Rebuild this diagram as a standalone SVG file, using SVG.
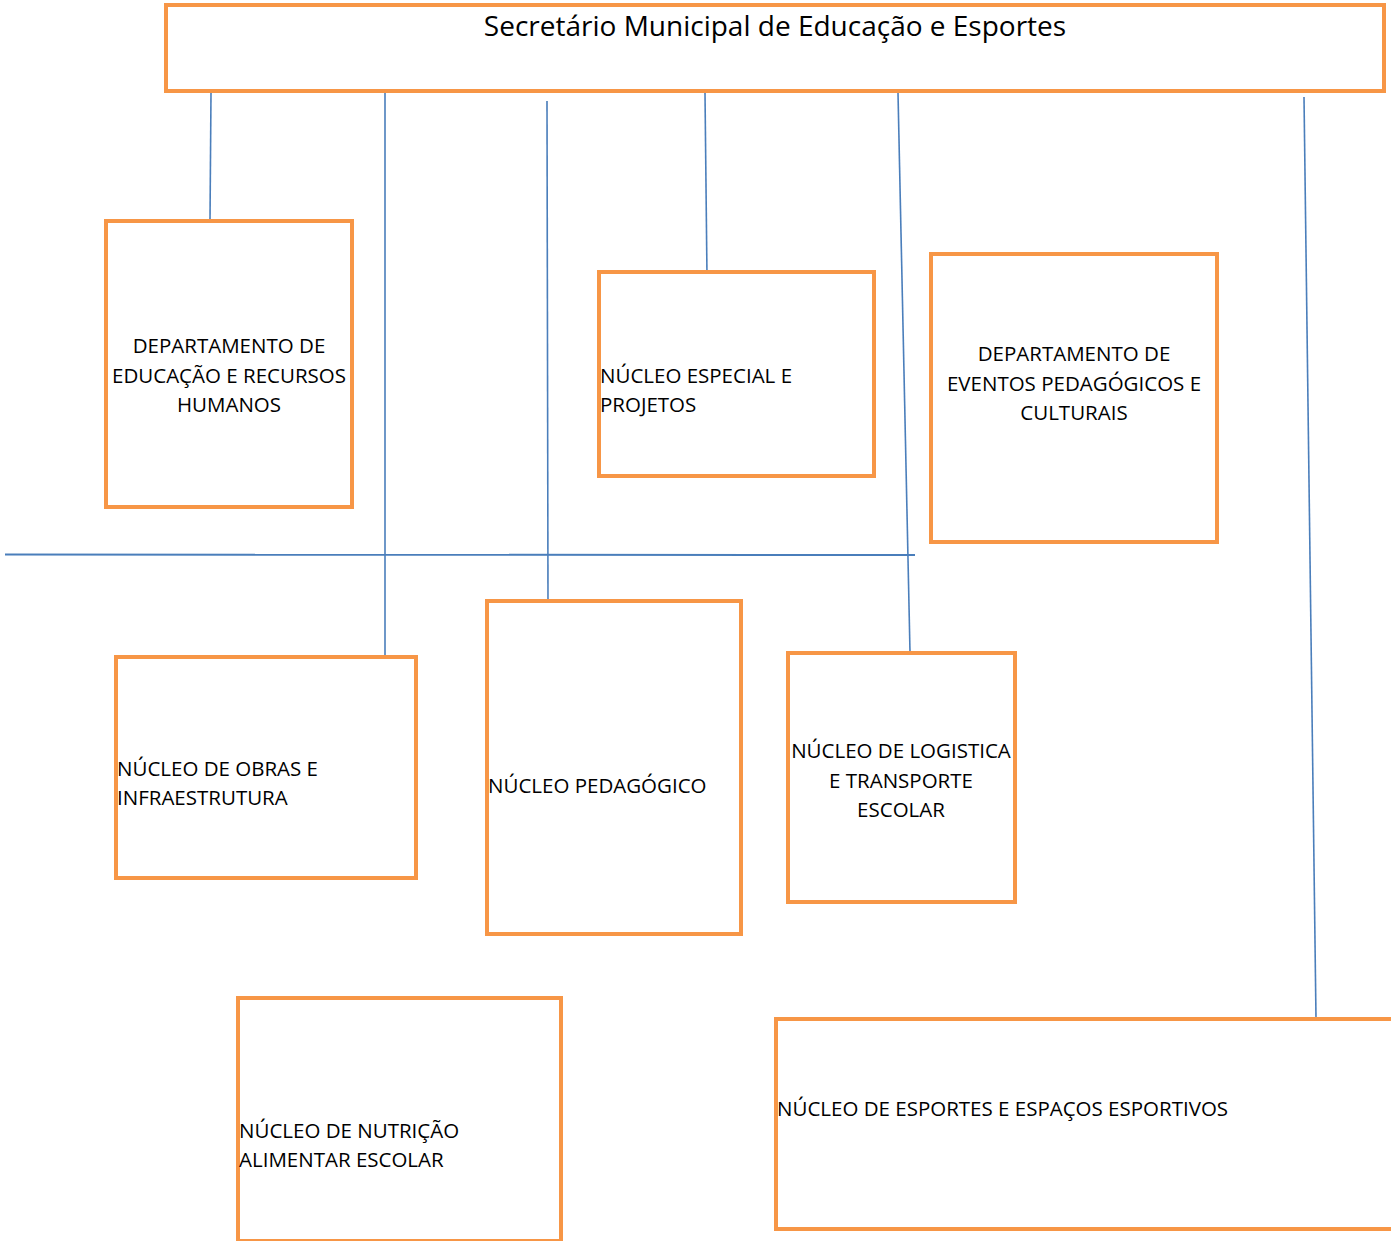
<svg xmlns="http://www.w3.org/2000/svg" width="1391" height="1241" viewBox="0 0 1391 1241">
<style>
.box{fill:#ffffff;stroke:#F79646;stroke-width:4}
.ln{stroke:#4A7EBB;stroke-width:1.6;fill:none}
.t{font-family:"Open Sans","Noto Sans","Liberation Sans",sans-serif;font-size:20.5px;fill:#000}
.c{text-anchor:middle}
.title{font-family:"Open Sans","Noto Sans","Liberation Sans",sans-serif;font-size:28px;fill:#000;text-anchor:middle}
</style>
<rect width="1391" height="1241" fill="#ffffff"/>
<g id="connectors">
<line class="ln" x1="211" y1="93" x2="210" y2="220"/>
<line class="ln" x1="385" y1="93" x2="385" y2="656"/>
<line class="ln" x1="547" y1="101" x2="548" y2="600"/>
<line class="ln" x1="705" y1="93" x2="707" y2="277"/>
<line class="ln" x1="898" y1="93" x2="910" y2="652"/>
<line class="ln" x1="1304" y1="97" x2="1316" y2="1018"/>
<line class="ln" x1="5" y1="554.5" x2="915" y2="555" style="stroke-width:2"/>
</g>
<g id="n-secretario">
<rect class="box" x="166" y="5" width="1218" height="86"/>
<text class="title" x="775" y="36">Secretário Municipal de Educação e Esportes</text>
</g>
<g id="n-dep-educacao">
<rect class="box" x="106" y="221" width="246" height="286"/>
<text class="t c" x="229" y="353">DEPARTAMENTO DE</text>
<text class="t c" x="229" y="383">EDUCAÇÃO E RECURSOS</text>
<text class="t c" x="229" y="412">HUMANOS</text>
</g>
<g id="n-especial">
<rect class="box" x="599" y="272" width="275" height="204"/>
<text class="t" x="600" y="383">NÚCLEO ESPECIAL E</text>
<text class="t" x="600" y="412">PROJETOS</text>
</g>
<g id="n-dep-eventos">
<rect class="box" x="931" y="254" width="286" height="288"/>
<text class="t c" x="1074" y="361">DEPARTAMENTO DE</text>
<text class="t c" x="1074" y="391">EVENTOS PEDAGÓGICOS E</text>
<text class="t c" x="1074" y="420">CULTURAIS</text>
</g>
<g id="n-obras">
<rect class="box" x="116" y="657" width="300" height="221"/>
<text class="t" x="117" y="776">NÚCLEO DE OBRAS E</text>
<text class="t" x="117" y="805">INFRAESTRUTURA</text>
</g>
<g id="n-pedagogico">
<rect class="box" x="487" y="601" width="254" height="333"/>
<text class="t" x="488" y="793">NÚCLEO PEDAGÓGICO</text>
</g>
<g id="n-logistica">
<rect class="box" x="788" y="653" width="227" height="249"/>
<text class="t c" x="901" y="758">NÚCLEO DE LOGISTICA</text>
<text class="t c" x="901" y="788">E TRANSPORTE</text>
<text class="t c" x="901" y="817">ESCOLAR</text>
</g>
<g id="n-nutricao">
<rect class="box" x="238" y="998" width="323" height="243"/>
<text class="t" x="239" y="1138">NÚCLEO DE NUTRIÇÃO</text>
<text class="t" x="239" y="1167">ALIMENTAR ESCOLAR</text>
</g>
<g id="n-esportes">
<rect class="box" x="776" y="1019" width="640" height="210"/>
<text class="t" x="777" y="1116">NÚCLEO DE ESPORTES E ESPAÇOS ESPORTIVOS</text>
</g>
</svg>
